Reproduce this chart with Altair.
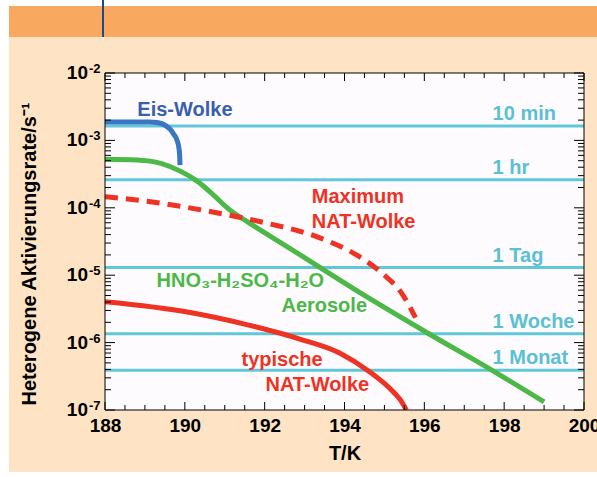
import altair as alt
import pandas as pd

# ---------------- values ----------------
eis_T = [188.0, 188.6, 189.1, 189.3, 189.42, 189.53, 189.63, 189.72, 189.80, 189.85, 189.87, 189.88]
eis_R = [1.88e-3, 1.88e-3, 1.87e-3, 1.84e-3, 1.77e-3, 1.64e-3, 1.47e-3, 1.24e-3, 1.02e-3, 7.8e-4, 6.0e-4, 4.3e-4]

aer_T = [188.0, 188.8, 189.4, 189.9, 190.3, 190.7, 191.1, 191.6, 192.6, 194.5, 196.1, 197.75, 199.0]
aer_R = [5.25e-4, 5.13e-4, 4.57e-4, 3.47e-4, 2.51e-4, 1.585e-4, 9.55e-5, 6.03e-5, 2.57e-5, 5.0e-6,
         1.365e-6, 3.72e-7, 1.32e-7]

natmax_T = [188.0, 189.0, 190.5, 191.9, 193.4, 194.3, 195.0, 195.4, 195.78]
natmax_R = [1.46e-4, 1.26e-4, 9.1e-5, 6.2e-5, 3.55e-5, 2.0e-5, 1.0e-5, 5.75e-6, 2.34e-6]

nattyp_T = [188.0, 190.1, 191.6, 192.9, 193.9, 194.6, 195.1, 195.4, 195.55]
nattyp_R = [4.03e-6, 2.82e-6, 1.82e-6, 1.12e-6, 6.9e-7, 3.8e-7, 2.19e-7, 1.41e-7, 1.0e-7]

time_labels = ["10 min", "1 hr", "1 Tag", "1 Woche", "1 Monat"]
time_rates = [1.63e-3, 2.6e-4, 1.3e-5, 1.35e-6, 3.9e-7]
time_label_T = 197.71

x_tick_labels = [188, 190, 192, 194, 196, 198, 200]
y_decades = [1e-2, 1e-3, 1e-4, 1e-5, 1e-6, 1e-7]
y_exponents = ["-2", "-3", "-4", "-5", "-6", "-7"]

ann_text = ["Eis-Wolke", "Maximum", "NAT-Wolke", "HNO₃-H₂SO₄-H₂O", "Aerosole", "typische", "NAT-Wolke"]
ann_T = [188.81, 193.18, 193.18, 189.29, 192.42, 191.42, 192.02]
ann_R = [2.82e-3, 1.445e-4, 6.17e-5, 8.1e-6, 3.47e-6, 5.5e-7, 2.34e-7]
ann_kind = ["eis", "nat", "nat", "aer", "aer", "nat", "nat"]

# ---------------- style ----------------
FONT = "Liberation Sans"
BLUE = "#3b76c2"
BLUE_TXT = "#3a5fae"
GREEN = "#4cb848"
RED = "#ee3224"
CYAN = "#62c6d9"
CYAN_TXT = "#5bc0d4"
PEACH = "#fee4c4"
ORANGE = "#f9a85f"
W, H = 479, 337

kind_color = {"eis": BLUE_TXT, "nat": RED, "aer": GREEN}

xscale = alt.Scale(domain=[188, 200], nice=False, zero=False)
yscale = alt.Scale(type="log", domain=[1e-7, 1e-2], nice=False)
xaxis = alt.Axis(values=x_tick_labels, ticks=False, domain=False, grid=False,
                 labelFont=FONT, labelFontSize=19, labelFontWeight="bold", labelColor="black",
                 labelPadding=6, labelFlush=False, format="d",
                 title="T/K", titleFont=FONT, titleFontSize=20, titleFontWeight="bold",
                 titleColor="black", titlePadding=8)


def X(field="T"):
    return alt.X(f"{field}:Q", scale=xscale, axis=xaxis)


def Y(field="R"):
    return alt.Y(f"{field}:Q", scale=yscale, axis=None)


one = pd.DataFrame({"a": [0]})

# decorative page elements (outside the plot area)
white_top = alt.Chart(one).mark_rect(color="white").encode(
    x=alt.value(-105), x2=alt.value(492), y=alt.value(-73), y2=alt.value(-67))
white_left = alt.Chart(one).mark_rect(color="white").encode(
    x=alt.value(-105), x2=alt.value(-96), y=alt.value(-73), y2=alt.value(H + 67))
white_bottom = alt.Chart(one).mark_rect(color="white").encode(
    x=alt.value(-105), x2=alt.value(492), y=alt.value(H + 62), y2=alt.value(H + 67))
orange_band = alt.Chart(one).mark_rect(color=ORANGE).encode(
    x=alt.value(-96), x2=alt.value(492), y=alt.value(-67), y2=alt.value(-36))
blue_bar = alt.Chart(one).mark_rule(color="#1b4a8a", strokeWidth=2).encode(
    x=alt.value(-2), y=alt.value(-73), y2=alt.value(-36))

# time-scale reference lines
df_time = pd.DataFrame({"R": time_rates, "label": time_labels, "T": [time_label_T] * len(time_rates)})
time_rules = alt.Chart(df_time).mark_rule(color=CYAN, strokeWidth=3).encode(y=Y())
time_text = alt.Chart(df_time).mark_text(
    align="left", baseline="middle", dy=-12, font=FONT, fontSize=20, fontWeight="bold", color=CYAN_TXT
).encode(x=X(), y=Y(), text="label:N")

# curves
def curve(T, R, color, **kw):
    df = pd.DataFrame({"T": T, "R": R})
    return alt.Chart(df).mark_line(color=color, strokeWidth=5, interpolate="monotone",
                                   clip=True, **kw).encode(x=X(), y=Y())

eis = curve(eis_T, eis_R, BLUE, strokeCap="butt")
aer = curve(aer_T, aer_R, GREEN, strokeCap="butt")
natmax = curve(natmax_T, natmax_R, RED, strokeDash=[13, 8], strokeCap="butt")
nattyp = curve(nattyp_T, nattyp_R, RED, strokeCap="butt")

# annotations
df_ann = pd.DataFrame({"T": ann_T, "R": ann_R, "text": ann_text,
                       "color": [kind_color[k] for k in ann_kind]})
ann = alt.Chart(df_ann).mark_text(
    align="left", baseline="middle", font=FONT, fontSize=20, fontWeight="bold"
).encode(x=X(), y=Y(), text="text:N", color=alt.Color("color:N", scale=None))

# inward ticks on all four sides
x_major = [188, 190, 192, 194, 196, 198, 200]
x_minor = [188 + 0.5 * i for i in range(25) if (188 + 0.5 * i) not in x_major]
df_xmaj = pd.DataFrame({"T": x_major})
df_xmin = pd.DataFrame({"T": x_minor})
y_minor = [m * d for d in y_decades[1:] for m in range(2, 10)]
df_ymaj = pd.DataFrame({"R": y_decades})
df_ymin = pd.DataFrame({"R": y_minor})

tick = dict(color="black", strokeWidth=1)
ticks = [
    alt.Chart(df_xmaj).mark_rule(**tick).encode(x=X(), y=alt.value(H), y2=alt.value(H - 8)),
    alt.Chart(df_xmin).mark_rule(**tick).encode(x=X(), y=alt.value(H), y2=alt.value(H - 5)),
    alt.Chart(df_xmaj).mark_rule(**tick).encode(x=X(), y=alt.value(0), y2=alt.value(8)),
    alt.Chart(df_xmin).mark_rule(**tick).encode(x=X(), y=alt.value(0), y2=alt.value(5)),
    alt.Chart(df_ymaj).mark_rule(**tick).encode(y=Y(), x=alt.value(0), x2=alt.value(10)),
    alt.Chart(df_ymin).mark_rule(**tick).encode(y=Y(), x=alt.value(0), x2=alt.value(6)),
    alt.Chart(df_ymaj).mark_rule(**tick).encode(y=Y(), x=alt.value(W), x2=alt.value(W - 10)),
    alt.Chart(df_ymin).mark_rule(**tick).encode(y=Y(), x=alt.value(W), x2=alt.value(W - 6)),
]

# y tick labels: "10" with superscript exponent
df_ylab = pd.DataFrame({"R": y_decades, "exp": y_exponents})
ylab_base = alt.Chart(df_ylab).mark_text(
    align="right", baseline="middle", font=FONT, fontSize=19, fontWeight="bold", color="black"
).encode(y=Y(), x=alt.value(-17), text=alt.value("10"))
ylab_exp = alt.Chart(df_ylab).mark_text(
    align="left", baseline="middle", dy=-4, font=FONT, fontSize=13, fontWeight="bold", color="black"
).encode(y=Y(), x=alt.value(-16), text="exp:N")

ytitle = alt.Chart(one).mark_text(
    angle=270, align="center", baseline="middle", font=FONT, fontSize=20, fontWeight="bold",
    color="black"
).encode(x=alt.value(-75), y=alt.value(181), text=alt.value("Heterogene Aktivierungsrate/s⁻¹"))

frame = alt.Chart(one).mark_rect(fillOpacity=0, stroke="black", strokeWidth=1).encode(
    x=alt.value(0), x2=alt.value(W), y=alt.value(0), y2=alt.value(H))

chart = alt.layer(
    white_top, white_left, white_bottom, orange_band, blue_bar,
    time_rules, eis, aer, natmax, nattyp, time_text, ann,
    *ticks, ylab_base, ylab_exp, ytitle, frame
).properties(
    width=W, height=H,
    background=PEACH,
    padding={"left": 105, "top": 73, "right": 13, "bottom": 67},
    autosize=alt.AutoSizeParams(type="none"),
).configure_view(fill="#fdfbfd", strokeWidth=0)

chart.save("out.html", embed_options={"renderer": "svg", "actions": False})
